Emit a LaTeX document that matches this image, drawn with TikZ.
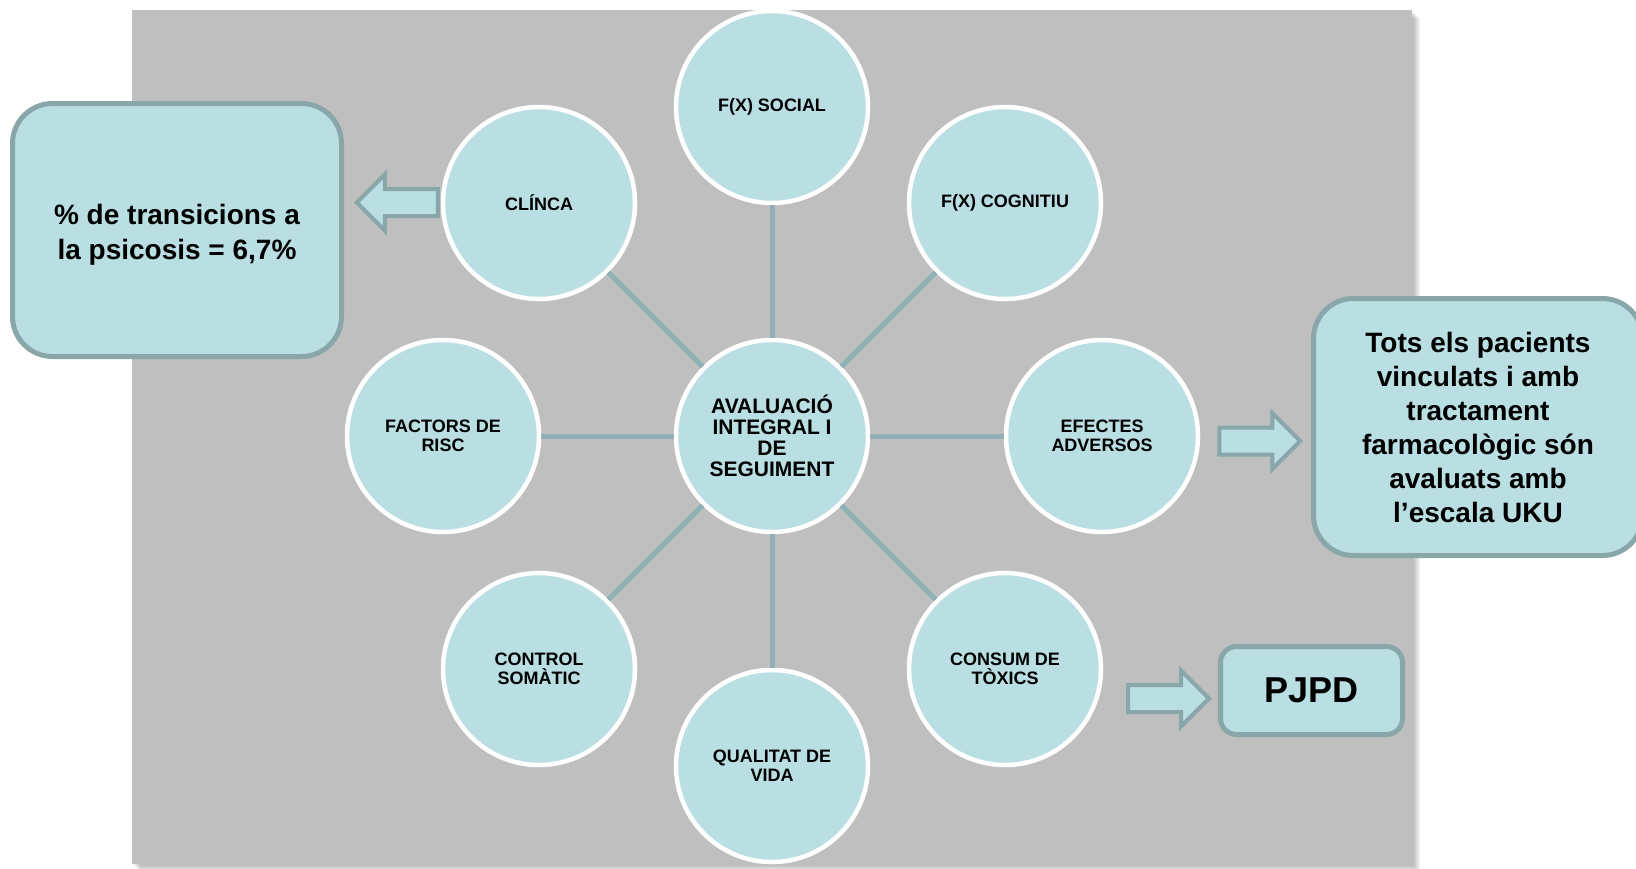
\documentclass[tikz,border=0pt]{standalone}
\usepackage{fontspec}
\setmainfont{Liberation Sans}
\usetikzlibrary{positioning}

\definecolor{bgGray}{HTML}{BFBFBF}
\definecolor{circFill}{HTML}{B9DFE3}
\definecolor{spokeCol}{HTML}{8FB1B5}
\definecolor{boxLine}{HTML}{89A6A9}

\tikzset{
    topic/.style={circle, fill=circFill, draw=white, line width=4.5pt, minimum size=192pt,
        inner sep=0pt, align=center, font=\fontsize{18}{19}\selectfont\bfseries},
    spoke/.style={draw=spokeCol, line width=5pt},
    resultbox/.style={rectangle, fill=circFill, draw=boxLine, line width=5pt,
        inner sep=0pt, align=center},
    blockarrow/.style={fill=circFill, draw=boxLine, line width=4pt, line join=miter},
    fatarrow/.pic={
        \draw[blockarrow] (0,-13.5) -- (53,-13.5) -- (53,-28) -- (81,0) -- (53,28)
            -- (53,13.5) -- (0,13.5) -- cycle;
    }
}

\begin{document}
\begin{tikzpicture}[x=1pt, y=-1pt]
    \useasboundingbox (0,0) rectangle (1636,868);
    % Background panel with shadow
    \foreach \d in {2,4,6,8} {
        \fill[black, opacity=.07] (132+\d,10+\d) rectangle (1412+\d,864+\d);
    }
    \fill[bgGray] (132,10) rectangle (1412,864);

    % Centre
    \node[topic, font=\fontsize{21}{21}\selectfont\bfseries] (avaluacio) at (772,436)
        {AVALUACIÓ\\INTEGRAL I\\DE\\SEGUIMENT};
    % Outer circles
    \foreach \name/\x/\y/\txt in {social/772/107/{F(X) SOCIAL},
        cognitiu/1005/203/{F(X) COGNITIU},
        efectes/1102/436/{EFECTES\\ADVERSOS},
        consum/1005/669/{CONSUM DE\\TÒXICS},
        qualitat/772/766/{QUALITAT DE\\VIDA},
        control/539/669/{CONTROL\\SOMÀTIC},
        factors/443/436/{FACTORS DE\\RISC},
        clinca/539/203/{CLÍNCA}} {
        \node[topic] (\name) at (\x,\y) {\txt};
        \draw[spoke] (avaluacio) -- (\name);
    }

    % Result boxes
    \node[resultbox, rounded corners=40pt, minimum width=329pt, minimum height=253pt]
        (transicions) at (177,230) {};
    \node[align=center, inner sep=0pt, font=\fontsize{28}{35}\selectfont\bfseries]
        (transicionsTxt) at ([yshift=-5pt]transicions.center)
        {\% de transicions a\\la psicosis = 6,7\%};
    \node[resultbox, rounded corners=40pt, minimum width=329pt, minimum height=257pt,
        font=\fontsize{28}{34}\selectfont\bfseries] (uku) at (1478,427)
        {Tots els pacients\\vinculats i amb\\tractament\\farmacològic són\\avaluats amb\\l’escala UKU};
    \node[resultbox, rounded corners=16pt, minimum width=182pt, minimum height=88pt,
        font=\fontsize{36}{40}\selectfont\bfseries] (pjpd) at (1311.5,690.5) {PJPD};

    % Arrows
    \pic[rotate=180] at ([xshift=-3pt,yshift=0.5pt]clinca.west) {fatarrow};
    \pic at ([xshift=19pt,yshift=-5pt]efectes.east) {fatarrow};
    \pic at ([xshift=-90pt,yshift=-8pt]pjpd.west) {fatarrow};
\end{tikzpicture}
\end{document}
